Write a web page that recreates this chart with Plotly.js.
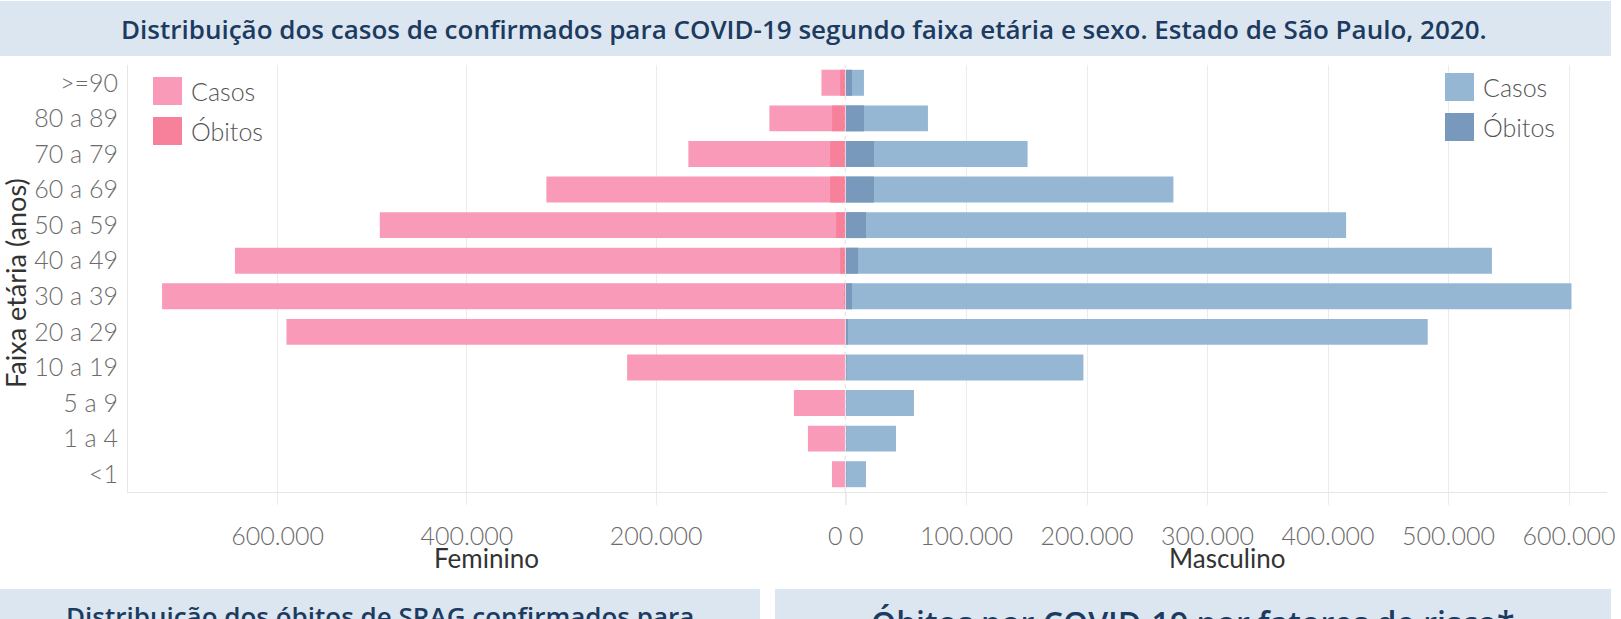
<!DOCTYPE html>
<html>
<head>
<meta charset="utf-8">
<script src="https://cdn.plot.ly/plotly-3.0.1.min.js"></script>
<style>
html,body{margin:0;padding:0;background:#fff;}
#chart{width:1621px;height:619px;}
</style>
</head>
<body>
<div id="chart"></div>
<script>
// ---- data ----
const ageGroups = [">=90","80 a 89","70 a 79","60 a 69","50 a 59","40 a 49","30 a 39","20 a 29","10 a 19","5 a 9","1 a 4","<1"];
const femCasos   = [25400, 80400, 166000, 316000, 492000, 645000, 722000, 590600, 230700, 54500, 39700, 14300];
const femObitos  = [5600, 14100, 16200, 16200, 9900, 5600, 1400, 400, 150, 50, 50, 80];
const mascCasos  = [14900, 68000, 150700, 271700, 415000, 536000, 602000, 482700, 197000, 56400, 41500, 16600];
const mascObitos = [5000, 14900, 23200, 23200, 16600, 10000, 5000, 1500, 400, 150, 150, 250];
const hid = s => "<span style='color:rgba(0,0,0,0)'>" + s + "</span>";
const femTickVals  = [600000, 400000, 200000, 0];
const femTickText  = ["600.000", "400.000", "200.000", "0" + hid("0.")];
const mascTickVals = [0, 100000, 200000, 300000, 400000, 500000, 600000];
const mascTickText = [hid(".0") + "0", "100.000", "200.000", "300.000", "400.000", "500.000", "600.000"];
const legendLabels = ["Casos", "Óbitos"];
const titleText = "Distribuição dos casos de confirmados para COVID-19 segundo faixa etária e sexo. Estado de São Paulo, 2020.";
const yTitle = "Faixa etária (anos)";
const xTitleFem = "Feminino";
const xTitleMasc = "Masculino";
const bottomLeftTitle = "Distribuição dos óbitos de SRAG confirmados para";
const bottomRightTitle = "Óbitos por COVID-19 por fatores de risco*";

// ---- style ----
const W = 1621, H = 619;
const px = v => v / W;
const py = v => 1 - v / H;
const C = {
  femCasos: "#f99ab8", femObitos: "#f7809b",
  mascCasos: "#95b7d3", mascObitos: "#7899bb",
  banner: "#dce6f1", title: "#1c3b60",
  grid: "#ececec", tick: "#6b6b6b", text: "#333333", legend: "#555555"
};
const baseFont = "Lato, 'Open Sans', sans-serif";
const titleFont = "'Open Sans', Roboto, sans-serif";
const barW = 0.73;

const traces = [
  {type:"bar", orientation:"h", x:femCasos, y:ageGroups, xaxis:"x", yaxis:"y",
   marker:{color:C.femCasos}, width:barW, name:"Casos", hoverinfo:"x+y"},
  {type:"bar", orientation:"h", x:femObitos, y:ageGroups, xaxis:"x", yaxis:"y",
   marker:{color:C.femObitos}, width:barW, name:"Óbitos", hoverinfo:"x+y"},
  {type:"bar", orientation:"h", x:mascCasos, y:ageGroups, xaxis:"x2", yaxis:"y",
   marker:{color:C.mascCasos}, width:barW, name:"Casos", hoverinfo:"x+y"},
  {type:"bar", orientation:"h", x:mascObitos, y:ageGroups, xaxis:"x2", yaxis:"y",
   marker:{color:C.mascObitos}, width:barW, name:"Óbitos", hoverinfo:"x+y"}
];

const plotTop = 65, plotBottom = 492;
const tickFont = {family: baseFont, size: 25, weight: 300, color: C.tick};

const xCommon = {
  showgrid:true, gridcolor:C.grid, gridwidth:1,
  ticks:"outside", ticklen:12, tickcolor:C.grid, tickwidth:1,
  zeroline:false, showline:true, linecolor:"#e6e6e6", linewidth:1,
  tickmode:"array", tickfont:tickFont, ticklabelstandoff:10, fixedrange:true, anchor:"y"
};

const layout = {
  width:W, height:H,
  margin:{l:0,r:0,t:0,b:0,pad:0},
  paper_bgcolor:"#ffffff", plot_bgcolor:"#ffffff",
  barmode:"overlay", showlegend:false,
  xaxis: Object.assign({}, xCommon, {
    domain:[px(128), px(845.5)], range:[758000, 0],
    tickvals:femTickVals, ticktext:femTickText
  }),
  xaxis2: Object.assign({}, xCommon, {
    domain:[px(846), px(1607)], range:[0, 631500],
    tickvals:mascTickVals, ticktext:mascTickText
  }),
  yaxis: {
    domain:[py(plotBottom), py(plotTop)], type:"category",
    categoryorder:"array", categoryarray:ageGroups,
    autorange:false, range:[ageGroups.length - 0.5, -0.5],
    showgrid:false, zeroline:false, showline:true, linecolor:"#e6e6e6",
    ticks:"", ticklabelstandoff:4,
    tickfont:{family: baseFont, size: 25, weight: 300, color: C.tick}, fixedrange:true, anchor:"x"
  },
  shapes: [
    // top banner
    {type:"rect", xref:"paper", yref:"paper", x0:0, x1:px(1611), y0:py(56), y1:py(1),
     fillcolor:C.banner, line:{width:0}, layer:"below"},
    // bottom banners
    {type:"rect", xref:"paper", yref:"paper", x0:0, x1:px(760), y0:py(630), y1:py(589),
     fillcolor:C.banner, line:{width:0}, layer:"below"},
    {type:"rect", xref:"paper", yref:"paper", x0:px(775), x1:px(1611), y0:py(630), y1:py(589),
     fillcolor:C.banner, line:{width:0}, layer:"below"},
    // dashed zero line (feminino)
    {type:"line", xref:"x", yref:"paper", x0:0, x1:0, y0:py(plotBottom), y1:py(plotTop),
     line:{color:"#d4d4d4", width:1.5, dash:"4px,4px"}, layer:"above"},
    // legends
    {type:"rect", xref:"paper", yref:"paper", x0:px(153), x1:px(182), y0:py(105), y1:py(77),
     fillcolor:C.femCasos, line:{width:0}},
    {type:"rect", xref:"paper", yref:"paper", x0:px(153), x1:px(182), y0:py(145), y1:py(117),
     fillcolor:C.femObitos, line:{width:0}},
    {type:"rect", xref:"paper", yref:"paper", x0:px(1445), x1:px(1474), y0:py(101), y1:py(73),
     fillcolor:C.mascCasos, line:{width:0}},
    {type:"rect", xref:"paper", yref:"paper", x0:px(1445), x1:px(1474), y0:py(141), y1:py(113),
     fillcolor:C.mascObitos, line:{width:0}}
  ],
  annotations: [
    {text:titleText, xref:"paper", yref:"paper", x:px(804), y:py(29), xanchor:"center", yanchor:"middle",
     showarrow:false, font:{family:titleFont, size:26, weight:600, color:C.title}},
    {text:yTitle, xref:"paper", yref:"paper", x:px(15), y:py(283), xanchor:"center", yanchor:"middle",
     textangle:-90, showarrow:false, font:{family:baseFont, size:27, color:C.text}},
    {text:xTitleFem, xref:"paper", yref:"paper", x:px(486.5), y:py(558), xanchor:"center", yanchor:"middle",
     showarrow:false, font:{family:baseFont, size:26, color:C.text}},
    {text:xTitleMasc, xref:"paper", yref:"paper", x:px(1226.5), y:py(558), xanchor:"center", yanchor:"middle",
     showarrow:false, font:{family:baseFont, size:26, color:C.text}},
    {text:legendLabels[0], xref:"paper", yref:"paper", x:px(189), y:py(91), xanchor:"left", yanchor:"middle",
     showarrow:false, font:{family:baseFont, size:25, weight:300, color:C.legend}},
    {text:legendLabels[1], xref:"paper", yref:"paper", x:px(189), y:py(131), xanchor:"left", yanchor:"middle",
     showarrow:false, font:{family:baseFont, size:25, weight:300, color:C.legend}},
    {text:legendLabels[0], xref:"paper", yref:"paper", x:px(1481), y:py(87), xanchor:"left", yanchor:"middle",
     showarrow:false, font:{family:baseFont, size:25, weight:300, color:C.legend}},
    {text:legendLabels[1], xref:"paper", yref:"paper", x:px(1481), y:py(127), xanchor:"left", yanchor:"middle",
     showarrow:false, font:{family:baseFont, size:25, weight:300, color:C.legend}},
    {text:bottomLeftTitle, xref:"paper", yref:"paper", x:px(380), y:py(616), xanchor:"center", yanchor:"middle",
     showarrow:false, font:{family:titleFont, size:26, weight:600, color:C.title}},
    {text:bottomRightTitle, xref:"paper", yref:"paper", x:px(1193), y:py(622), xanchor:"center", yanchor:"middle",
     showarrow:false, font:{family:titleFont, size:32, weight:600, color:C.title}}
  ]
};

Plotly.newPlot("chart", traces, layout, {displayModeBar:false, staticPlot:true});
</script>
</body>
</html>
